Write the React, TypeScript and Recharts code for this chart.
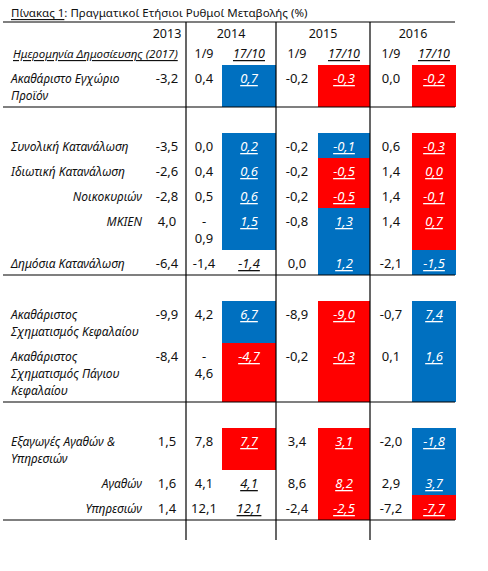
import React from "react";
import { ScatterChart, Scatter, XAxis, YAxis, ReferenceArea, ReferenceLine } from "recharts";

// ---- data ----
const titleLead = "Πίνακας 1";
const titleRest = ": Πραγματικοί Ετήσιοι Ρυθμοί Μεταβολής (%)";
const years = ["2013", "2014", "2015", "2016"];
const releaseDates = ["1/9", "17/10"];
const dateHeader = "Ημερομηνία Δημοσίευσης (2017)";

const categories = [
  "Ακαθάριστο Εγχώριο\nΠροϊόν",
  "Συνολική Κατανάλωση",
  "Ιδιωτική Κατανάλωση",
  "Νοικοκυριών",
  "ΜΚΙΕΝ",
  "Δημόσια Κατανάλωση",
  "Ακαθάριστος\nΣχηματισμός Κεφαλαίου",
  "Ακαθάριστος\nΣχηματισμός Πάγιου\nΚεφαλαίου",
  "Εξαγωγές Αγαθών &\nΥπηρεσιών",
  "Αγαθών",
  "Υπηρεσιών",
];
// rows per block of the table
const sections = [1, 5, 2, 3];
// sub-items are right aligned
const subItems = [3, 4, 9, 10];

const v2013 = [-3.2, -3.5, -2.6, -2.8, 4.0, -6.4, -9.9, -8.4, 1.5, 1.6, 1.4];
const v2014Sep = [0.4, 0.0, 0.4, 0.5, -0.9, -1.4, 4.2, -4.6, 7.8, 4.1, 12.1];
const v2014Oct = [0.7, 0.2, 0.6, 0.6, 1.5, -1.4, 6.7, -4.7, 7.7, 4.1, 12.1];
const v2015Sep = [-0.2, -0.2, -0.2, -0.2, -0.8, 0.0, -8.9, -0.2, 3.4, 8.6, -2.4];
const v2015Oct = [-0.3, -0.1, -0.5, -0.5, 1.3, 1.2, -9.0, -0.3, 3.1, 8.2, -2.5];
const v2016Sep = [0.0, 0.6, 1.4, 1.4, 1.4, -2.1, -0.7, 0.1, -2.0, 2.9, -7.2];
const v2016Oct = [-0.2, -0.3, 0.0, -0.1, 0.7, -1.5, 7.4, 1.6, -1.8, 3.7, -7.7];

// in the 2014 1/9 column the minus sign wrapped onto its own line in these rows
const splitSignRows = [4, 7];

// ---- layout ----
const W = 488;
const H = 571;
const FONT = '"Noto Sans", "DejaVu Sans", sans-serif';
const BLUE = "#0070C0";
const RED = "#FF0000";
const LEFT = 3;
const RIGHT = 455;
const colEdges = [148, 186, 222, 276, 318, 370, 412, 456];
const TITLE_LINE = 22;
const YEAR_ROW = 33;
const DATE_ROW = 53;
const BODY_TOP = 65;
const LINE_H = 17;
const ROW_PAD = 8;
const SECTION_GAP = 26;

const columns = [
  { values: v2013 },
  { values: v2014Sep },
  { values: v2014Oct, prev: v2014Sep },
  { values: v2015Sep },
  { values: v2015Oct, prev: v2015Sep },
  { values: v2016Sep },
  { values: v2016Oct, prev: v2016Sep },
];

const center = (c: number) => (colEdges[c] + colEdges[c + 1]) / 2;
const fmt = (v: number) => v.toFixed(1).replace(".", ",");

const cellText = (c: number, r: number) => {
  const v = columns[c].values[r];
  if (c === 1 && splitSignRows.includes(r) && v < 0) return "-\n" + fmt(-v);
  return fmt(v);
};
const lineCount = (s: string) => s.split("\n").length;

const rowLines = categories.map((label, r) =>
  Math.max(lineCount(label), ...columns.map((_, c) => lineCount(cellText(c, r))))
);

const rowTops: number[] = [];
const rowBottoms: number[] = [];
const sectionEnds: number[] = [];
{
  let y = BODY_TOP;
  let r = 0;
  sections.forEach((n) => {
    for (let k = 0; k < n; k++, r++) {
      rowTops.push(y);
      y += ROW_PAD + LINE_H * rowLines[r];
      rowBottoms.push(y);
    }
    sectionEnds.push(y);
    y += SECTION_GAP;
  });
}
const tableBottom = sectionEnds[sectionEnds.length - 1] + 20;

const revisionColor = (c: number, r: number) => {
  const col = columns[c];
  if (!col.prev) return null;
  const d = col.values[r] - col.prev[r];
  if (Math.abs(d) < 1e-9) return null;
  return d > 0 ? BLUE : RED;
};

// text marks
const labelPoints = categories.map((label, r) => ({
  x: subItems.includes(r) ? 142 : LEFT + 8,
  y: rowTops[r] + 13,
  text: label,
  anchor: subItems.includes(r) ? "end" : "start",
  italic: true,
  size: 12,
}));

const valuePoints = columns.flatMap((col, c) =>
  categories.map((_, r) => {
    const fill = revisionColor(c, r);
    return {
      x: center(c),
      y: rowTops[r] + 13,
      text: cellText(c, r),
      anchor: "middle",
      italic: !!col.prev,
      underline: !!col.prev,
      color: fill ? "#ffffff" : "#111111",
      size: 13,
    };
  })
);

const headerPoints = [
  { x: center(0), y: YEAR_ROW, text: years[0], anchor: "middle", size: 12.5 },
  ...years.slice(1).map((yr, i) => ({
    x: (colEdges[1 + i * 2] + colEdges[3 + i * 2]) / 2,
    y: YEAR_ROW,
    text: yr,
    anchor: "middle",
    size: 12.5,
  })),
  { x: LEFT + 10, y: DATE_ROW, text: dateHeader, anchor: "start", italic: true, underline: true, size: 11.5 },
  ...[1, 3, 5].flatMap((c) => [
    { x: center(c), y: DATE_ROW, text: releaseDates[0], anchor: "middle", size: 12.5 },
    { x: center(c + 1), y: DATE_ROW, text: releaseDates[1], anchor: "middle", italic: true, underline: true, size: 12.5 },
  ]),
];

function TextMark(props: any) {
  const { cx, cy, payload } = props;
  if (cx == null || cy == null) return null;
  const lines = String(payload.text).split("\n");
  return (
    <text
      x={cx}
      y={cy}
      textAnchor={payload.anchor}
      dominantBaseline="central"
      fill={payload.color || "#111111"}
      fontFamily={FONT}
      fontSize={payload.size}
      fontStyle={payload.italic ? "italic" : "normal"}
      style={payload.underline ? { textDecoration: "underline" } : undefined}
    >
      {lines.map((l: string, i: number) => (
        <tspan key={i} x={cx} dy={i === 0 ? 0 : LINE_H}>
          {l}
        </tspan>
      ))}
    </text>
  );
}

function TitleMark(props: any) {
  const { cx, cy } = props;
  if (cx == null || cy == null) return null;
  return (
    <text x={cx} y={cy} dominantBaseline="central" fontFamily={FONT} fontSize={11.5} fill="#111111">
      <tspan style={{ textDecoration: "underline" }}>{titleLead}</tspan>
      <tspan>{titleRest}</tspan>
    </text>
  );
}

export default function App() {
  const boxes: any[] = [];
  columns.forEach((_, c) =>
    categories.forEach((__, r) => {
      const fill = revisionColor(c, r);
      if (fill) boxes.push({ c, r, fill });
    })
  );

  return (
    <div style={{ width: W, height: H, background: "#ffffff" }}>
      <style>{"body{margin:0;background:#fff}"}</style>
      <ScatterChart width={W} height={H} margin={{ top: 0, right: 0, bottom: 0, left: 0 }}>
        <XAxis type="number" dataKey="x" domain={[0, W]} allowDataOverflow hide />
        <YAxis type="number" dataKey="y" domain={[0, H]} allowDataOverflow reversed hide />

        {boxes.map((b, i) => (
          <ReferenceArea
            key={"box" + i}
            x1={colEdges[b.c]}
            x2={colEdges[b.c + 1]}
            y1={rowTops[b.r]}
            y2={rowBottoms[b.r]}
            fill={b.fill}
            fillOpacity={1}
            stroke="none"
            shapeRendering="crispEdges"
          />
        ))}

        <ReferenceLine
          segment={[{ x: LEFT, y: TITLE_LINE }, { x: RIGHT, y: TITLE_LINE }]}
          stroke="#000"
          strokeWidth={1.2}
        />
        {sectionEnds.map((y, i) => (
          <ReferenceLine
            key={"h" + i}
            segment={[{ x: LEFT, y }, { x: RIGHT, y }]}
            stroke="#000"
            strokeWidth={1.2}
          />
        ))}
        {[1, 3, 5].map((c) => (
          <ReferenceLine
            key={"v" + c}
            segment={[{ x: colEdges[c], y: TITLE_LINE }, { x: colEdges[c], y: tableBottom }]}
            stroke="#000"
            strokeWidth={1.2}
          />
        ))}

        <Scatter data={[{ x: LEFT + 8, y: 12 }]} shape={<TitleMark />} isAnimationActive={false} />
        <Scatter data={headerPoints} shape={<TextMark />} isAnimationActive={false} />
        <Scatter data={labelPoints} shape={<TextMark />} isAnimationActive={false} />
        <Scatter data={valuePoints} shape={<TextMark />} isAnimationActive={false} />
      </ScatterChart>
    </div>
  );
}
